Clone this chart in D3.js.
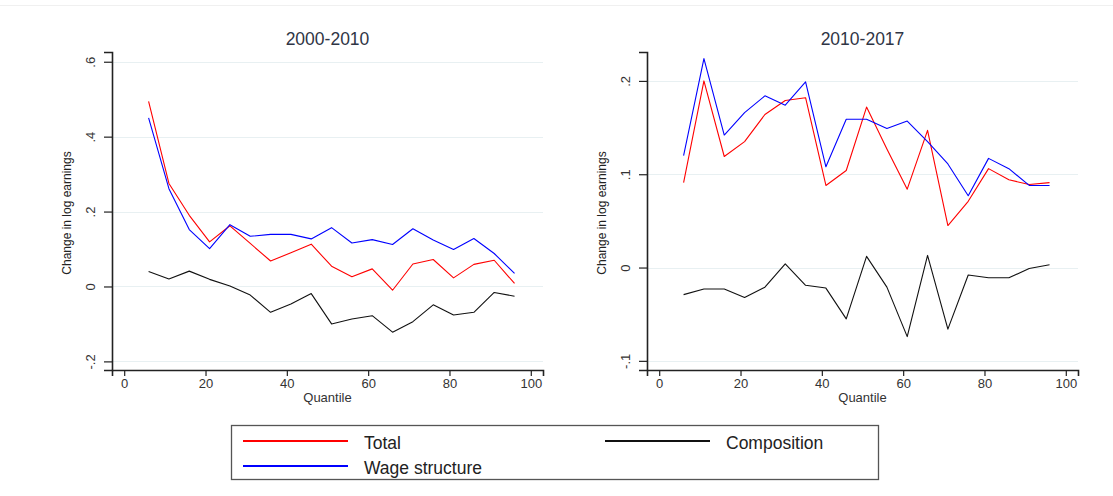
<!DOCTYPE html>
<html>
<head>
<meta charset="utf-8">
<script src="https://cdn.jsdelivr.net/npm/d3@7"></script>
<style>
  body { margin: 0; background: #fff; }
  svg { display: block; font-family: "Liberation Sans", Arial, sans-serif; }
</style>
</head>
<body>
<div class="chart"></div>
<script>
var width = 1113;
var height = 496;

// quantiles shared by both panels
var quantiles = [6, 11, 16, 21, 26, 31, 36, 41, 46, 51, 56, 61, 66, 71, 76, 81, 86, 91, 96];

// 2000-2010
var total0010 = [0.494, 0.275, 0.19, 0.119, 0.162, 0.115, 0.068, 0.09, 0.113, 0.054, 0.026, 0.047, -0.010, 0.060, 0.072, 0.023, 0.059, 0.070, 0.008];
var wage0010  = [0.450, 0.261, 0.152, 0.101, 0.165, 0.134, 0.139, 0.139, 0.127, 0.157, 0.116, 0.125, 0.112, 0.154, 0.124, 0.099, 0.128, 0.088, 0.035];
var comp0010  = [0.040, 0.020, 0.041, 0.019, 0.001, -0.023, -0.069, -0.047, -0.019, -0.100, -0.087, -0.078, -0.122, -0.094, -0.049, -0.076, -0.069, -0.016, -0.026];

// 2010-2017
var total1017 = [0.091, 0.200, 0.119, 0.135, 0.164, 0.179, 0.182, 0.088, 0.104, 0.172, 0.127, 0.084, 0.147, 0.045, 0.071, 0.106, 0.094, 0.089, 0.091];
var wage1017  = [0.120, 0.224, 0.142, 0.166, 0.184, 0.174, 0.199, 0.108, 0.159, 0.159, 0.149, 0.157, 0.135, 0.111, 0.077, 0.117, 0.106, 0.088, 0.088];
var comp1017  = [-0.029, -0.023, -0.023, -0.032, -0.021, 0.004, -0.019, -0.022, -0.055, 0.012, -0.021, -0.074, 0.013, -0.066, -0.008, -0.011, -0.011, -0.001, 0.003];

var xTicks = [0, 20, 40, 60, 80, 100];
var yTicks0010 = [-0.2, 0, 0.2, 0.4, 0.6];
var yTicks1017 = [-0.1, 0, 0.1, 0.2];

var seriesNames = ['Total', 'Wage structure', 'Composition'];
var seriesColors = ['#ff0000', '#0000ff', '#111111'];

var panels = [
  { title: '2000-2010', left: 112, right: 543, top: 52, bottom: 370,
    yDomain: [-0.223, 0.626], yTicks: yTicks0010, series: [total0010, wage0010, comp0010] },
  { title: '2010-2017', left: 647, right: 1078, top: 52, bottom: 370,
    yDomain: [-0.1098, 0.231], yTicks: yTicks1017, series: [total1017, wage1017, comp1017] }
];

function stataFmt(v) {
  if (v === 0) return '0';
  var s = String(+v.toFixed(2));
  return s.replace('0.', '.');
}

var svg = d3.select('.chart')
  .append('svg')
  .attr('width', width)
  .attr('height', height);

// faint top border line
svg.append('line')
  .attr('x1', 0).attr('x2', width)
  .attr('y1', 5.5).attr('y2', 5.5)
  .attr('stroke', '#f0f0f0');

panels.forEach(function(p){
  var x = d3.scaleLinear().domain([-3, 103]).range([p.left, p.right]);
  var y = d3.scaleLinear().domain(p.yDomain).range([p.bottom, p.top]);
  var g = svg.append('g');

  // grid
  g.selectAll('.grid')
    .data(p.yTicks)
    .enter().append('line')
    .attr('x1', p.left).attr('x2', p.right)
    .attr('y1', function(d){ return Math.round(y(d)) + 0.5; })
    .attr('y2', function(d){ return Math.round(y(d)) + 0.5; })
    .attr('stroke', '#e8f0f2')
    .attr('stroke-width', 1.2);

  // x axis
  var xAxis = g.append('g')
    .attr('transform', 'translate(0,' + p.bottom + ')')
    .call(d3.axisBottom(x).tickValues(xTicks).tickSize(6).tickPadding(3));
  xAxis.select('.domain').attr('stroke', '#222').attr('stroke-width', 1.6);
  xAxis.selectAll('.tick line').attr('stroke', '#222').attr('stroke-width', 1.2);
  xAxis.selectAll('.tick text').attr('font-size', 13).attr('fill', '#333')
    .attr('font-family', '"Liberation Sans", Arial, sans-serif');

  // y axis
  var yAxis = g.append('g')
    .attr('transform', 'translate(' + p.left + ',0)')
    .call(d3.axisLeft(y).tickValues(p.yTicks).tickSize(8).tickFormat(stataFmt));
  yAxis.select('.domain').attr('stroke', '#222').attr('stroke-width', 1.6);
  yAxis.selectAll('.tick line').attr('stroke', '#222').attr('stroke-width', 1.2);
  yAxis.selectAll('.tick text')
    .attr('font-size', 13).attr('fill', '#333')
    .attr('font-family', '"Liberation Sans", Arial, sans-serif')
    .attr('x', null).attr('dy', null)
    .attr('text-anchor', 'middle')
    .attr('transform', 'translate(-22,0) rotate(-90)')
    .attr('y', 4.5);

  // lines
  var line = d3.line()
    .x(function(d, i){ return x(quantiles[i]); })
    .y(function(d){ return y(d); });

  p.series.forEach(function(s, k){
    g.append('path')
      .datum(s)
      .attr('fill', 'none')
      .attr('stroke', seriesColors[k])
      .attr('stroke-width', 1.1)
      .attr('stroke-linejoin', 'round')
      .attr('d', line);
  });

  // title
  g.append('text')
    .attr('x', (p.left + p.right) / 2)
    .attr('y', 45)
    .attr('text-anchor', 'middle')
    .attr('font-size', 17.5)
    .attr('fill', '#2f3545')
    .text(p.title);

  // x label
  g.append('text')
    .attr('x', (p.left + p.right) / 2)
    .attr('y', 402)
    .attr('text-anchor', 'middle')
    .attr('font-size', 13)
    .attr('fill', '#333')
    .text('Quantile');

  // y label
  g.append('text')
    .attr('transform', 'translate(' + (p.left - 41) + ',' + ((p.top + p.bottom) / 2 + 2) + ') rotate(-90)')
    .attr('text-anchor', 'middle')
    .attr('font-size', 12)
    .attr('fill', '#222')
    .text('Change in log earnings');
});

// legend
var legend = svg.append('g');
legend.append('rect')
  .attr('x', 231.5).attr('y', 425.5)
  .attr('width', 647).attr('height', 54)
  .attr('fill', 'none')
  .attr('stroke', '#555')
  .attr('stroke-width', 1.3);

var legendPos = [
  { x: 243, y: 441 },
  { x: 243, y: 466 },
  { x: 605, y: 441 }
];

legend.selectAll('.lg-line')
  .data(seriesNames)
  .enter().append('line')
  .attr('x1', function(d, i){ return legendPos[i].x; })
  .attr('x2', function(d, i){ return legendPos[i].x + 105; })
  .attr('y1', function(d, i){ return legendPos[i].y; })
  .attr('y2', function(d, i){ return legendPos[i].y; })
  .attr('stroke', function(d, i){ return seriesColors[i]; })
  .attr('stroke-width', 2);

legend.selectAll('.lg-text')
  .data(seriesNames)
  .enter().append('text')
  .attr('x', function(d, i){ return legendPos[i].x + 121; })
  .attr('y', function(d, i){ return legendPos[i].y + 7.5; })
  .attr('font-size', 17.5)
  .attr('fill', '#222')
  .text(function(d){ return d; });
</script>
</body>
</html>
